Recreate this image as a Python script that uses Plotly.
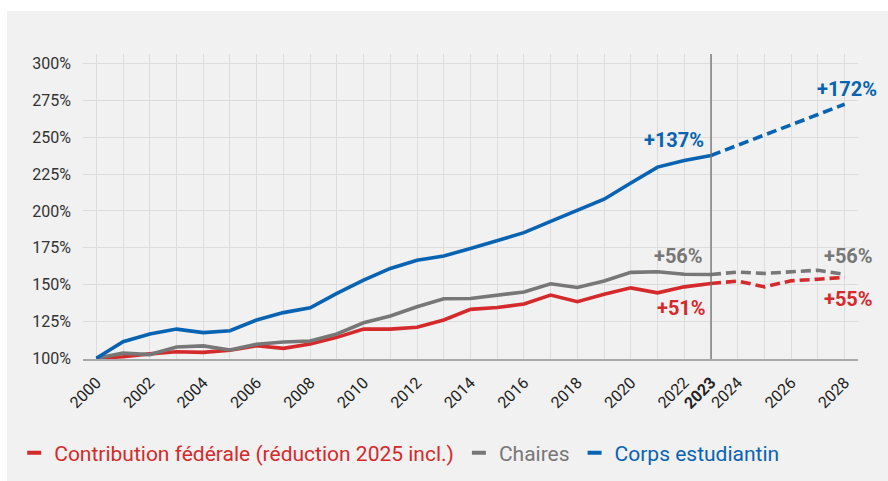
import plotly.graph_objects as go

# ---- data ----
years_hist = list(range(2000, 2024))
years_proj = list(range(2023, 2029))

federal_hist = [100, 101, 103, 104.4, 104, 105.5, 108.5, 106.7, 109.7, 114.2, 119.9, 119.8,
                121, 126, 133.2, 134.5, 136.8, 142.9, 138.4, 143.5, 147.8, 144.4, 148.5, 150.8]
federal_proj = [150.8, 152.4, 148.5, 152.6, 153.7, 154.9]

chairs_hist = [100, 103.5, 102.5, 107.7, 108.4, 105.6, 109.5, 111, 111.7, 116.5, 124.1, 128.7,
               135, 140.4, 140.6, 142.9, 145, 150.6, 148.1, 152.5, 158.3, 158.7, 157, 156.9]
chairs_proj = [156.9, 158.5, 157.6, 158.7, 159.8, 156.9]

students_hist = [100, 111.2, 116.5, 119.8, 117.4, 118.7, 126, 131, 134.3, 144, 153, 161,
                 166.6, 169.5, 174.5, 179.7, 185.3, 193, 200.5, 208, 219, 229.8, 234.3, 237.7]
students_proj = [237.7, 244.5, 251.5, 258.5, 265.5, 272.5]

series_names = ["Contribution fédérale (réduction 2025 incl.)", "Chaires", "Corps estudiantin"]
series_colors = ["#d42a2c", "#777777", "#0863b2"]

tick_years = [2000, 2002, 2004, 2006, 2008, 2010, 2012, 2014, 2016, 2018, 2020, 2022, 2023,
              2024, 2026, 2028]
tick_labels = [str(y) if y != 2023 else "<b>2023</b>" for y in tick_years]

y_ticks = [100, 125, 150, 175, 200, 225, 250, 275, 300]

label_texts = ["+137%", "+172%", "+56%", "+56%", "+51%", "+55%"]
label_x = [2021.6, 2028.1, 2021.8, 2028.15, 2021.9, 2028.15]
label_y = [248, 283, 169.5, 169.5, 134.3, 140]
label_colors = ["#0863b2", "#0863b2", "#777777", "#777777", "#d42a2c", "#d42a2c"]

FONT = "Roboto"

fig = go.Figure()

hist = [federal_hist, chairs_hist, students_hist]
proj = [federal_proj, chairs_proj, students_proj]

for name, col, h, p in zip(series_names, series_colors, hist, proj):
    fig.add_trace(go.Scatter(x=years_hist, y=h, mode="lines",
                             line=dict(color=col, width=3.6), showlegend=False,
                             hoverinfo="x+y"))
    fig.add_trace(go.Scatter(x=years_proj, y=p, mode="lines",
                             line=dict(color=col, width=3.6, dash="10px,5px"),
                             showlegend=False, hoverinfo="x+y"))

for name, col in zip(series_names, series_colors):
    fig.add_trace(go.Scatter(x=[None], y=[None], mode="markers",
                             marker=dict(symbol="line-ew", size=10,
                                         line=dict(color=col, width=4)),
                             name=f"<span style='color:{col}'>{name}</span>",
                             showlegend=True))

for t, x, y, c in zip(label_texts, label_x, label_y, label_colors):
    fig.add_annotation(x=x, y=y, text=f"<b>{t}</b>", showarrow=False,
                       font=dict(family=FONT, size=20, color=c),
                       xanchor="center", yanchor="middle")

# background box (white strip at top and left)
fig.add_shape(type="rect", xref="paper", yref="paper", x0=-0.098, x1=1.1, y0=-0.5, y1=1.141,
              fillcolor="#f1f1f1", line=dict(width=0), layer="below")

# vertical separator at 2023
fig.add_shape(type="line", xref="x", yref="paper", x0=2023, x1=2023, y0=0, y1=1,
              line=dict(color="#6e6e6e", width=1.3))

fig.update_layout(
    width=888, height=481,
    margin=dict(l=83, r=30, t=54, b=122),
    paper_bgcolor="white",
    plot_bgcolor="rgba(0,0,0,0)",
    font=dict(family=FONT, size=16, color="#333333"),
    showlegend=True,
    legend=dict(orientation="h", xref="container", yref="container",
                x=0.016, y=1 - 453 / 481, xanchor="left", yanchor="middle",
                font=dict(family=FONT, size=21), bgcolor="rgba(0,0,0,0)",
                itemwidth=30, traceorder="normal"),
    xaxis=dict(range=[1999.5, 2028.5], tickmode="array", tickvals=tick_years,
               ticktext=tick_labels, tickangle=-45, showgrid=True, gridcolor="#dcdcdc",
               gridwidth=1, zeroline=False, showline=True, linecolor="#a8a8a8", linewidth=2,
               ticks="", ticklabelstandoff=6, automargin=False,
               tickfont=dict(family=FONT, size=16, color="#222222"),
               minor=dict(dtick=1, tick0=2000, showgrid=True, gridcolor="#dcdcdc", gridwidth=1)),
    yaxis=dict(range=[99.5, 306.6], tickmode="array", tickvals=y_ticks,
               ticktext=[f"{v}%" for v in y_ticks], showgrid=True, gridcolor="#dcdcdc",
               gridwidth=1, zeroline=False, showline=False, ticks="", ticklabelstandoff=11,
               automargin=False,
               tickfont=dict(family=FONT, size=16, color="#333333")),
)

fig.write_html("out.html")
